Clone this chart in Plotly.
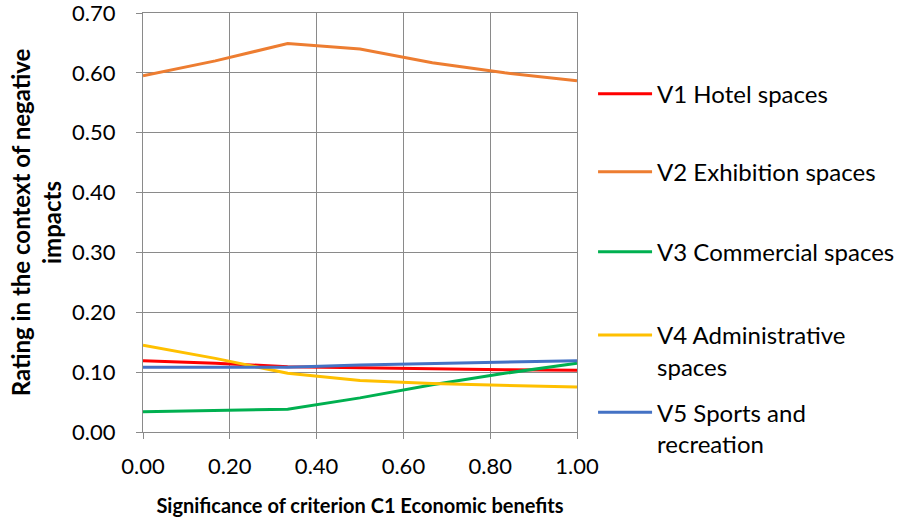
import plotly.graph_objects as go

x_vals = [0.0, 1/6, 2/6, 0.5, 4/6, 5/6, 1.0]
v1_hotel = [0.119, 0.115, 0.109, 0.107, 0.105, 0.104, 0.103]
v2_exhibition = [0.595, 0.620, 0.649, 0.640, 0.617, 0.600, 0.587]
v3_commercial = [0.034, 0.036, 0.038, 0.057, 0.079, 0.098, 0.115]
v4_admin = [0.145, 0.123, 0.098, 0.086, 0.081, 0.078, 0.075]
v5_sports = [0.108, 0.108, 0.108, 0.112, 0.114, 0.117, 0.119]

names = ["V1 Hotel spaces", "V2 Exhibition spaces", "V3 Commercial spaces",
         "V4 Administrative<br>spaces", "V5 Sports and<br>recreation"]
colors = ["#FF0000", "#ED7D31", "#00B050", "#FFC000", "#4472C4"]
series = [v1_hotel, v2_exhibition, v3_commercial, v4_admin, v5_sports]
x_ticks = [0, 0.2, 0.4, 0.6, 0.8, 1.0]
x_ticklabels = ["0.00", "0.20", "0.40", "0.60", "0.80", "1.00"]
y_ticks = [0, 0.1, 0.2, 0.3, 0.4, 0.5, 0.6, 0.7]
y_ticklabels = ["0.00", "0.10", "0.20", "0.30", "0.40", "0.50", "0.60", "0.70"]

FONT = "Lato"
legend_ids = ["legend", "legend2", "legend3", "legend4", "legend5"]
legend_y = [0.860, 0.674, 0.483, 0.284, 0.100]

fig = go.Figure()
for n, c, s, lid in zip(names, colors, series, legend_ids):
    fig.add_trace(go.Scatter(x=x_vals, y=s, mode="lines", name=n,
                             line=dict(color=c, width=3), legend=lid))

legend_layouts = {}
for lid, ly in zip(legend_ids, legend_y):
    legend_layouts[lid] = dict(x=1.037, y=ly, xanchor="left", yanchor="top",
                               valign="top", bgcolor="rgba(0,0,0,0)", itemwidth=54,
                               font=dict(family=FONT, size=24, color="#000000"))

grid = "#8A8A8A"
fig.update_layout(
    width=898, height=524,
    margin=dict(l=143, r=321, t=13, b=92, autoexpand=False),
    paper_bgcolor="white", plot_bgcolor="white",
    font=dict(family=FONT, size=22, color="#000000"),
    showlegend=True,
    xaxis=dict(range=[0, 1], tickvals=x_ticks, ticktext=x_ticklabels,
               showgrid=True, gridcolor=grid, gridwidth=1,
               ticks="outside", ticklen=6, tickcolor=grid,
               showline=True, linecolor=grid, mirror=True, zeroline=False,
               automargin=False, ticklabeloverflow="allow", ticklabelstandoff=9,
               tickfont=dict(family=FONT, size=22),
               title=dict(text="<b>Significance of criterion C1 Economic benefits</b>",
                          font=dict(family=FONT, size=20), standoff=20)),
    yaxis=dict(range=[0, 0.7], tickvals=y_ticks, ticktext=y_ticklabels,
               showgrid=True, gridcolor=grid, gridwidth=1,
               ticks="outside", ticklen=6, tickcolor=grid,
               showline=True, linecolor=grid, mirror=True, zeroline=False,
               automargin=False, ticklabeloverflow="allow", ticklabelstandoff=16,
               tickfont=dict(family=FONT, size=22),
               title=dict(text="<b>Rating in the context of negative<br>impacts</b>",
                          font=dict(family=FONT, size=24), standoff=3)),
    **legend_layouts,
)
fig.write_html("out.html", config={"displayModeBar": False},
               post_script="document.body.style.margin='0';")
